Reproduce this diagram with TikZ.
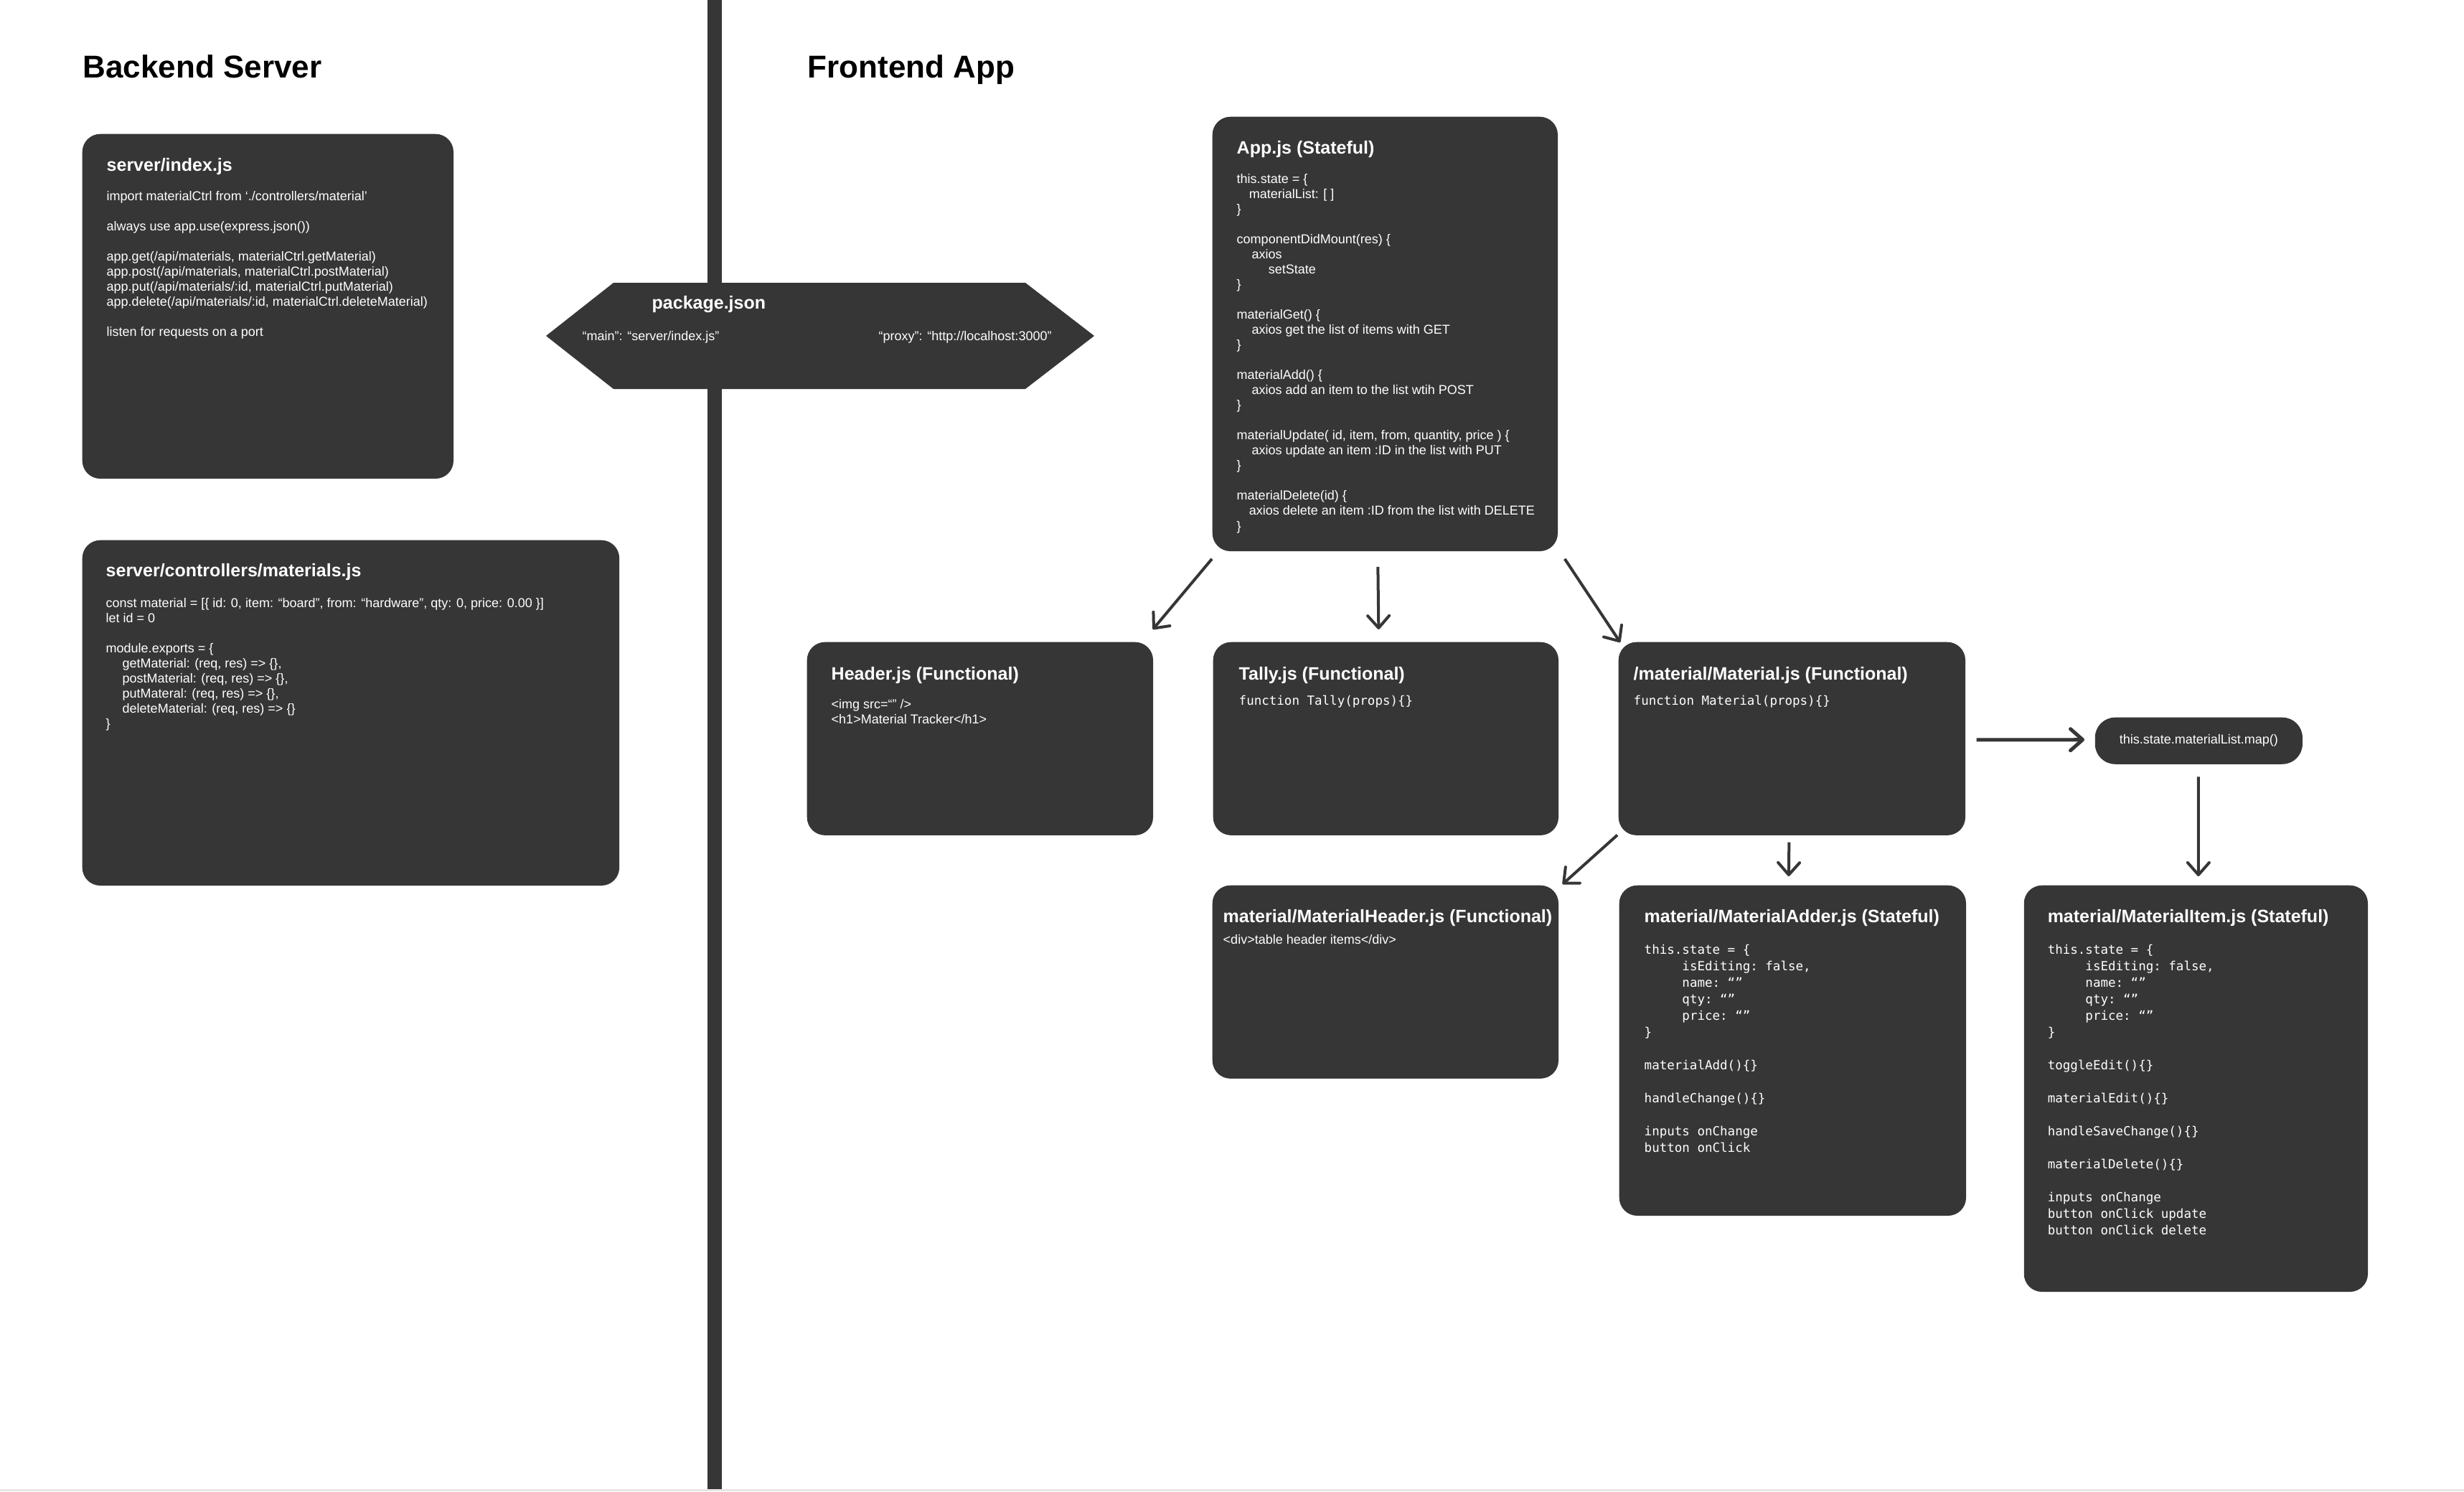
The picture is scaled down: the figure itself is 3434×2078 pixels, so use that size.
\documentclass[tikz,border=0pt]{standalone}
\usepackage{fontspec}
\setmainfont{Liberation Sans}
\setmonofont{DejaVu Sans Mono}
\usetikzlibrary{arrows.meta}

\definecolor{cardgray}{HTML}{363636}
\definecolor{edgegray}{HTML}{E6E6E6}

\tikzset{
  card/.style={fill=cardgray, rounded corners=0.25cm, inner sep=0pt, anchor=north west},
  secttitle/.style={anchor=base west, inner sep=0pt, text=black,
    font=\fontsize{12.52pt}{15pt}\selectfont\bfseries},
  cardtitle/.style={anchor=base west, inner sep=0pt, text=white,
    font=\fontsize{7.11pt}{8.5pt}\selectfont\bfseries},
  cardtext/.style={anchor=north west, inner sep=0pt, text=white, align=left,
    font=\fontsize{5.12pt}{5.975pt}\selectfont},
  cardcode/.style={anchor=north west, inner sep=0pt, text=white, align=left,
    font=\fontsize{4.98pt}{6.544pt}\selectfont\ttfamily},
  link/.style={draw=cardgray, line width=0.04cm,
    -{Straight Barb[length=0.17cm, width=0.30cm, round]}},
}
% indentation helpers
\newcommand{\indA}{\hspace*{6.54pt}}
\newcommand{\indB}{\hspace*{4.84pt}}
\newcommand{\indC}{\hspace*{5.97pt}}
\newcommand{\indD}{\hspace*{12.52pt}}
\newcommand{\indM}{\hphantom{00000}}

\begin{document}
\begin{tikzpicture}[x=0.01cm, y=-0.01cm]
\useasboundingbox (0,0) rectangle (3434,2078);
\fill[white] (0,0) rectangle (3434,2078);

% column divider and lower edge
\fill[cardgray] (986,0) rectangle (1006,2075);
\fill[edgegray] (0,2075) rectangle (3434,2078);

% section headings
\node[secttitle] (back) at (115,108) {Backend Server};
\node[secttitle] (front) at (1125,108) {Frontend App};

% ---------------- backend ----------------
\node[card, minimum width=5.17cm, minimum height=4.80cm] (srv) at (114,186) {};
\node[cardtitle] (srvT) at (148,238) {server/index.js};
\node[cardtext] (srvB) at (148,264.3) {\strut import materialCtrl from ‘./controllers/material’\\ \mbox{}\\
always use app.use(express.json())\\ \mbox{}\\
app.get(/api/materials, materialCtrl.getMaterial)\\
app.post(/api/materials, materialCtrl.postMaterial)\\
app.put(/api/materials/:id, materialCtrl.putMaterial)\\
app.delete(/api/materials/:id, materialCtrl.deleteMaterial)\\ \mbox{}\\
listen for requests on a port};

\node[card, minimum width=7.48cm, minimum height=4.81cm] (ctl) at (114,752) {};
\node[cardtitle] (ctlT) at (147,803) {server/controllers/materials.js};
\node[cardtext] (ctlB) at (147,831.3) {\strut const material = [\{ id: 0, item: “board”, from: “hardware”, qty: 0, price: 0.00 \}]\\
let id = 0\\ \mbox{}\\
module.exports = \{\\
\indA getMaterial: (req, res) => \{\},\\
\indA postMaterial: (req, res) => \{\},\\
\indA putMateral: (req, res) => \{\},\\
\indA deleteMaterial: (req, res) => \{\}\\
\}};

% package.json, straddling the divider
\fill[cardgray] (761,468) -- (855,394) -- (1429,394) -- (1525,468) -- (1429,542) -- (855,542) -- cycle;
\node[cardtitle] (pkgT) at (908,430) {package.json};
\node[cardtext, anchor=base west] (pkgMain) at (811,474) {“main”: “server/index.js”};
\node[cardtext, anchor=base west] (pkgProxy) at (1224,474) {“proxy”: “http://localhost:3000”};

% ---------------- frontend ----------------
\node[card, minimum width=4.81cm, minimum height=6.05cm] (app) at (1689,162) {};
\node[cardtitle] (appT) at (1723,214) {App.js (Stateful)};
\node[cardtext] (appB) at (1723,240.3) {\strut this.state = \{\\
\indB materialList: [ ]\\
\}\\ \mbox{}\\
componentDidMount(res) \{\\
\indC axios\\
\indD setState\\
\}\\ \mbox{}\\
materialGet() \{\\
\indC axios get the list of items with GET\\
\}\\ \mbox{}\\
materialAdd() \{\\
\indC axios add an item to the list wtih POST\\
\}\\ \mbox{}\\
materialUpdate( id, item, from, quantity, price ) \{\\
\indC axios update an item :ID in the list with PUT\\
\}\\ \mbox{}\\
materialDelete(id) \{\\
\indB axios delete an item :ID from the list with DELETE\\
\}};

\node[card, minimum width=4.82cm, minimum height=2.69cm] (hdr) at (1124,894) {};
\node[cardtitle] (hdrT) at (1158,947) {Header.js (Functional)};
\node[cardtext] (hdrB) at (1158,972.3) {\strut <img src=“” />\\
<h1>Material Tracker</h1>};

\node[card, minimum width=4.81cm, minimum height=2.69cm] (tly) at (1690,894) {};
\node[cardtitle] (tlyT) at (1726,947) {Tally.js (Functional)};
\node[cardcode] (tlyB) at (1726,965.9) {\strut function Tally(props)\{\}};

\node[card, minimum width=4.83cm, minimum height=2.69cm] (mat) at (2255,894) {};
\node[cardtitle] (matT) at (2276,947) {/material/Material.js (Functional)};
\node[cardcode] (matB) at (2276,965.9) {\strut function Material(props)\{\}};

\node[card, rounded corners=0.28cm, minimum width=2.89cm, minimum height=0.65cm,
  text=white, font=\fontsize{5.12pt}{5.975pt}\selectfont,
  text height=0.13cm, text depth=0.04cm] (map) at (2919,999) {this.state.materialList.map()};

\node[card, minimum width=4.82cm, minimum height=2.69cm] (mhd) at (1689,1233) {};
\node[cardtitle] (mhdT) at (1704,1285) {material/MaterialHeader.js (Functional)};
\node[cardtext] (mhdB) at (1704,1300.3) {\strut <div>table header items</div>};

\node[card, minimum width=4.83cm, minimum height=4.60cm] (madd) at (2256,1233) {};
\node[cardtitle] (maddT) at (2291,1285) {material/MaterialAdder.js (Stateful)};
\node[cardcode] (maddB) at (2291,1312.9) {\strut this.state = \{\\
\indM isEditing: false,\\
\indM name: “”\\
\indM qty: “”\\
\indM price: “”\\
\}\\ \mbox{}\\
materialAdd()\{\}\\ \mbox{}\\
handleChange()\{\}\\ \mbox{}\\
inputs onChange\\
button onClick};

\node[card, minimum width=4.79cm, minimum height=5.66cm] (mitem) at (2820,1233) {};
\node[cardtitle] (mitemT) at (2853,1285) {material/MaterialItem.js (Stateful)};
\node[cardcode] (mitemB) at (2853,1312.9) {\strut this.state = \{\\
\indM isEditing: false,\\
\indM name: “”\\
\indM qty: “”\\
\indM price: “”\\
\}\\ \mbox{}\\
toggleEdit()\{\}\\ \mbox{}\\
materialEdit()\{\}\\ \mbox{}\\
handleSaveChange()\{\}\\ \mbox{}\\
materialDelete()\{\}\\ \mbox{}\\
inputs onChange\\
button onClick update\\
button onClick delete};

% ---------------- connectors ----------------
\draw[link] ([shift={(0,10)}]app.south west) -- ([shift={(-1,-17)}]hdr.north east);
\draw[link] ([shift={(-10,21)}]app.south) -- ([shift={(-10,-17)}]tly.north);
\draw[link] ([shift={(9,10)}]app.south east) -- ([shift={(3,1)}]mat.north west);
\draw[link, line width=0.05cm] ([shift={(15,1.5)}]mat.east) -- ([shift={(-14,-1.5)}]map.west);
\draw[link] ([shift={(-0.5,17)}]map.south) -- ([shift={(3.5,-12)}]mitem.north);
\draw[link] ([shift={(-1,-1)}]mat.south west) -- ([shift={(5,-1)}]mhd.north east);
\draw[link] ([shift={(-4,9)}]mat.south) -- ([shift={(-5.5,-12)}]madd.north);
\end{tikzpicture}
\end{document}
